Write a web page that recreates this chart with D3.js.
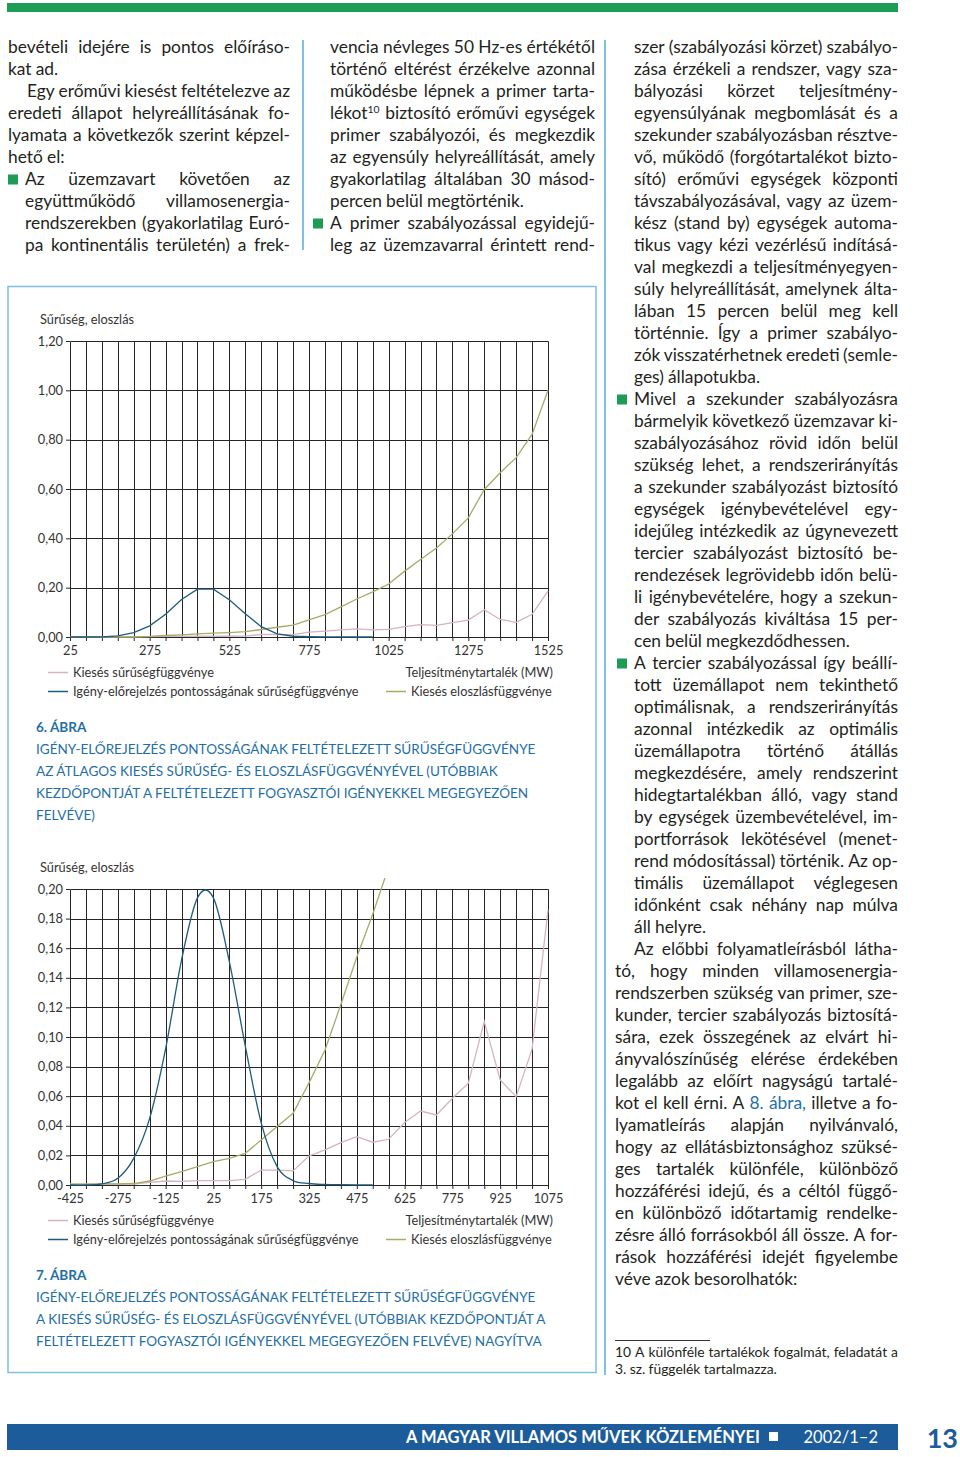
<!DOCTYPE html>
<html>
<head>
<meta charset="utf-8">
<script src="https://cdn.jsdelivr.net/npm/d3@7"></script>
<style>
  body { margin: 0; background: #fff; }
  svg { display: block; }
  text { font-family: Lato, "Open Sans", sans-serif; }
</style>
</head>
<body>
<div id="page"></div>
<script>
// ---- chart data (same series, second one zoomed) ----
const cats1 = [25, 75, 125, 175, 225, 275, 325, 375, 425, 475, 525, 575, 625, 675, 725, 775,
  825, 875, 925, 975, 1025, 1075, 1125, 1175, 1225, 1275, 1325, 1375, 1425, 1475, 1525];
const cats2 = [-425, -375, -325, -275, -225, -175, -125, -75, -25, 25, 75, 125, 175, 225, 275, 325,
  375, 425, 475, 525, 575, 625, 675, 725, 775, 825, 875, 925, 975, 1025, 1075];
const xLabels1 = [25, 275, 525, 775, 1025, 1275, 1525];
const xLabels2 = [-425, -275, -125, 25, 175, 325, 475, 625, 775, 925, 1075];
const yTicks1 = [0, 0.2, 0.4, 0.6, 0.8, 1.0, 1.2];
const yTicks2 = [0, 0.02, 0.04, 0.06, 0.08, 0.1, 0.12, 0.14, 0.16, 0.18, 0.2];

// Kiesés sűrűségfüggvénye
const kiesesSuruseg = [0.0005, 0.0005, 0.0005, 0.0005, 0.0006, 0.0018, 0.0027, 0.0025, 0.003, 0.003,
  0.003, 0.0038, 0.0101, 0.0101, 0.0095, 0.0196, 0.0237, 0.0286, 0.0327, 0.0289, 0.0309, 0.0422,
  0.050, 0.0473, 0.0586, 0.0688, 0.1105, 0.071, 0.0597, 0.0918, 0.186];
// Kiesés eloszlásfüggvénye
const kiesesEloszlas = [0.0005, 0.0006, 0.0007, 0.0008, 0.001, 0.0027, 0.006, 0.009, 0.0124, 0.0158,
  0.018, 0.0214, 0.0304, 0.0395, 0.0485, 0.069, 0.091, 0.122, 0.154, 0.183, 0.215, 0.267, 0.314,
  0.361, 0.418, 0.483, 0.598, 0.666, 0.727, 0.821, 1.0];
// Igény-előrejelzés pontosságának sűrűségfüggvénye (ends at the 20th category)
const igenySuruseg = [0, 0, 0.0007, 0.0045, 0.018, 0.045, 0.092, 0.152, 0.194, 0.194, 0.151, 0.094,
  0.042, 0.0124, 0.003, 0.001, 0.0004, 0.0002, 0.0001, 0.0001];

const legendNames = ["Kiesés sűrűségfüggvénye", "Igény-előrejelzés pontosságának sűrűségfüggvénye",
  "Kiesés eloszlásfüggvénye"];
const seriesColors = ["#d6b2c2", "#1f5b7e", "#a7ab68"];

// ---- page text ----
const caption6 = ["IGÉNY-ELŐREJELZÉS PONTOSSÁGÁNAK FELTÉTELEZETT SŰRŰSÉGFÜGGVÉNYE",
  "AZ ÁTLAGOS KIESÉS SŰRŰSÉG- ÉS ELOSZLÁSFÜGGVÉNYÉVEL (UTÓBBIAK",
  "KEZDŐPONTJÁT A FELTÉTELEZETT FOGYASZTÓI IGÉNYEKKEL MEGEGYEZŐEN",
  "FELVÉVE)"];
const caption7 = ["IGÉNY-ELŐREJELZÉS PONTOSSÁGÁNAK FELTÉTELEZETT SŰRŰSÉGFÜGGVÉNYE",
  "A KIESÉS SŰRŰSÉG- ÉS ELOSZLÁSFÜGGVÉNYÉVEL (UTÓBBIAK KEZDŐPONTJÁT A",
  "FELTÉTELEZETT FOGYASZTÓI IGÉNYEKKEL MEGEGYEZŐEN FELVÉVE) NAGYÍTVA"];

// [indent, kind, text]  kind: j = justified, l = left, b = bullet + justified
const col1 = [
  [0, "j", "bevételi idejére is pontos előíráso-"],
  [0, "l", "kat ad."],
  [19, "j", "Egy erőművi kiesést feltételezve az"],
  [0, "j", "eredeti állapot helyreállításának fo-"],
  [0, "j", "lyamata a következők szerint képzel-"],
  [0, "l", "hető el:"],
  [17, "b", "Az üzemzavart követően az"],
  [17, "j", "együttműködő villamosenergia-"],
  [17, "j", "rendszerekben (gyakorlatilag Euró-"],
  [17, "j", "pa kontinentális területén) a frek-"]
];
const col2 = [
  [0, "j", "vencia névleges 50 Hz-es értékétől"],
  [0, "j", "történő eltérést érzékelve azonnal"],
  [0, "j", "működésbe lépnek a primer tarta-"],
  [0, "j", "lékot^10 biztosító erőművi egységek"],
  [0, "j", "primer szabályozói, és megkezdik"],
  [0, "j", "az egyensúly helyreállítását, amely"],
  [0, "j", "gyakorlatilag általában 30 másod-"],
  [0, "l", "percen belül megtörténik."],
  [0, "b", "A primer szabályozással egyidejű-"],
  [0, "j", "leg az üzemzavarral érintett rend-"]
];
const col3 = [
  [19, "j", "szer (szabályozási körzet) szabályo-"],
  [19, "j", "zása érzékeli a rendszer, vagy sza-"],
  [19, "j", "bályozási körzet teljesítmény-"],
  [19, "j", "egyensúlyának megbomlását és a"],
  [19, "j", "szekunder szabályozásban résztve-"],
  [19, "j", "vő, működő (forgótartalékot bizto-"],
  [19, "j", "sító) erőművi egységek központi"],
  [19, "j", "távszabályozásával, vagy az üzem-"],
  [19, "j", "kész (stand by) egységek automa-"],
  [19, "j", "tikus vagy kézi vezérlésű indításá-"],
  [19, "j", "val megkezdi a teljesítményegyen-"],
  [19, "j", "súly helyreállítását, amelynek álta-"],
  [19, "j", "lában 15 percen belül meg kell"],
  [19, "j", "történnie. Így a primer szabályo-"],
  [19, "j", "zók visszatérhetnek eredeti (semle-"],
  [19, "l", "ges) állapotukba."],
  [19, "b", "Mivel a szekunder szabályozásra"],
  [19, "j", "bármelyik következő üzemzavar ki-"],
  [19, "j", "szabályozásához rövid időn belül"],
  [19, "j", "szükség lehet, a rendszerirányítás"],
  [19, "j", "a szekunder szabályozást biztosító"],
  [19, "j", "egységek igénybevételével egy-"],
  [19, "j", "idejűleg intézkedik az úgynevezett"],
  [19, "j", "tercier szabályozást biztosító be-"],
  [19, "j", "rendezések legrövidebb időn belü-"],
  [19, "j", "li igénybevételére, hogy a szekun-"],
  [19, "j", "der szabályozás kiváltása 15 per-"],
  [19, "l", "cen belül megkezdődhessen."],
  [19, "b", "A tercier szabályozással így beállí-"],
  [19, "j", "tott üzemállapot nem tekinthető"],
  [19, "j", "optimálisnak, a rendszerirányítás"],
  [19, "j", "azonnal intézkedik az optimális"],
  [19, "j", "üzemállapotra történő átállás"],
  [19, "j", "megkezdésére, amely rendszerint"],
  [19, "j", "hidegtartalékban álló, vagy stand"],
  [19, "j", "by egységek üzembevételével, im-"],
  [19, "j", "portforrások lekötésével (menet-"],
  [19, "j", "rend módosítással) történik. Az op-"],
  [19, "j", "timális üzemállapot véglegesen"],
  [19, "j", "időnként csak néhány nap múlva"],
  [19, "l", "áll helyre."],
  [19, "j", "Az előbbi folyamatleírásból látha-"],
  [0, "j", "tó, hogy minden villamosenergia-"],
  [0, "j", "rendszerben szükség van primer, sze-"],
  [0, "j", "kunder, tercier szabályozás biztosítá-"],
  [0, "j", "sára, ezek összegének az elvárt hi-"],
  [0, "j", "ányvalószínűség elérése érdekében"],
  [0, "j", "legalább az előírt nagyságú tartalé-"],
  [0, "j", "kot el kell érni. A *8.* *ábra,* illetve a fo-"],
  [0, "j", "lyamatleírás alapján nyilvánvaló,"],
  [0, "j", "hogy az ellátásbiztonsághoz szüksé-"],
  [0, "j", "ges tartalék különféle, különböző"],
  [0, "j", "hozzáférési idejű, és a céltól függő-"],
  [0, "j", "en különböző időtartamig rendelke-"],
  [0, "j", "zésre álló forrásokból áll össze. A for-"],
  [0, "j", "rások hozzáférési idejét figyelembe"],
  [0, "l", "véve azok besorolhatók:"]
];

const W = 960, H = 1457;
const green = "#1e9b55", blueDark = "#1c5c9b", capBlue = "#1f6fa6", frameBlue = "#80c0e0";
const textCol = "#231f20", gridCol = "#262626";

const svg = d3.select("#page").append("svg").attr("width", W).attr("height", H);

function measure(str, size, weight) {
  let t = svg.append("text").attr("font-size", size).attr("font-weight", weight || 400).text(str);
  let w = t.node().getComputedTextLength();
  t.remove();
  return w;
}
function fitSize(str, target, weight) {
  return 20 * target / measure(str, 20, weight);
}

const chartSize = fitSize(legendNames[1], 286);
const capSize = fitSize(caption6[0], 500);

// body size: as large as the reference line lengths suggest, but small enough that
// most justified lines keep a normal word space
const spaceEm = 0.24;
let bodySize = fitSize("cen belül megkezdődhessen.", 223);
let fits = [];
[[col1, 290 - 8], [col2, 595 - 330], [col3, 898 - 615]].forEach(([lines, avail]) => {
  lines.forEach(l => {
    if (l[1] === "l") return;
    let words = l[2].replace(/[\^\*]/g, "").split(" ");
    let w20 = d3.sum(words, w => measure(w, 20));
    fits.push((avail - l[0]) / (w20 / 20 + (words.length - 1) * spaceEm));
  });
});
fits.sort(d3.ascending);
bodySize = Math.min(bodySize, fits[Math.floor(fits.length * 0.08)]);

// ---- page furniture ----
svg.append("rect").attr("x", 7).attr("y", 3).attr("width", 891).attr("height", 9).attr("fill", green);
svg.append("line").attr("x1", 303).attr("x2", 303).attr("y1", 40).attr("y2", 250)
  .attr("stroke", frameBlue).attr("stroke-width", 2);
svg.append("line").attr("x1", 605).attr("x2", 605).attr("y1", 40).attr("y2", 1375)
  .attr("stroke", frameBlue).attr("stroke-width", 2);
svg.append("rect").attr("x", 8).attr("y", 286.5).attr("width", 588).attr("height", 1086)
  .attr("fill", "none").attr("stroke", frameBlue).attr("stroke-width", 1.5);

// ---- body text ----
function drawLine(g, line, x0, right, baseline, size) {
  let [indent, kind, str] = line;
  let x = x0 + indent;
  if (kind === "b") {
    g.append("rect").attr("x", x - 17).attr("y", baseline - 10).attr("width", 10).attr("height", 10)
      .attr("fill", green);
  }
  let words = str.split(" ");
  let nodes = words.map(w => {
    let t = g.append("text").attr("y", baseline).attr("font-size", size).attr("fill", textCol);
    if (w.startsWith("*")) {
      t.text(w.replace(/\*/g, "")).attr("fill", capBlue);
    } else if (w.includes("^")) {
      let [base, sup] = w.split("^");
      t.text(base);
      t.append("tspan").attr("font-size", size * 0.6).attr("dy", -6).text(sup);
    } else {
      t.text(w);
    }
    return t;
  });
  let widths = nodes.map(n => n.node().getComputedTextLength());
  let total = d3.sum(widths);
  let minGap = size * 0.2;
  let gap = size * spaceEm;
  let k = 1;
  if (kind !== "l" && words.length > 1) {
    gap = (right - x - total) / (words.length - 1);
    if (gap < minGap) {
      gap = minGap;
      k = (right - x - gap * (words.length - 1)) / total;
    }
  }
  let cx = x;
  nodes.forEach((n, i) => {
    n.attr("x", cx);
    if (k < 1 && !words[i].includes("^")) {
      n.attr("textLength", widths[i] * k).attr("lengthAdjust", "spacingAndGlyphs");
    }
    cx += widths[i] * k + gap;
  });
}

function drawColumn(lines, x0, right, firstBase) {
  let g = svg.append("g");
  lines.forEach((line, i) => drawLine(g, line, x0, right, firstBase + i * 22, bodySize));
}
drawColumn(col1, 8, 290, 52.5);
drawColumn(col2, 330, 595, 52.5);
drawColumn(col3, 615, 898, 52.5);

// footnote
svg.append("line").attr("x1", 615).attr("x2", 710).attr("y1", 1340.5).attr("y2", 1340.5)
  .attr("stroke", "#333").attr("stroke-width", 1);
let fg = svg.append("g");
const noteSize = bodySize * 0.8;
drawLine(fg, [0, "j", "10 A különféle tartalékok fogalmát, feladatát a"], 615, 898, 1357, noteSize);
drawLine(fg, [0, "l", "3. sz. függelék tartalmazza."], 615, 898, 1374, noteSize);

// footer
svg.append("rect").attr("x", 7).attr("y", 1424).attr("width", 891).attr("height", 26).attr("fill", blueDark);
const footSize = fitSize("A MAGYAR VILLAMOS MŰVEK KÖZLEMÉNYEI", 354, 700);
svg.append("text").attr("x", 406).attr("y", 1443).attr("font-size", footSize).attr("font-weight", 700)
  .attr("fill", "#fff").text("A MAGYAR VILLAMOS MŰVEK KÖZLEMÉNYEI");
svg.append("rect").attr("x", 769).attr("y", 1432).attr("width", 9).attr("height", 9).attr("fill", "#fff");
svg.append("text").attr("x", 878).attr("y", 1443).attr("text-anchor", "end").attr("font-size", footSize)
  .attr("fill", "#fff").text("2002/1–2");
svg.append("text").attr("x", 958).attr("y", 1448).attr("text-anchor", "end").attr("font-size", 27)
  .attr("font-weight", 700).attr("fill", blueDark).text("13");

// ---- charts ----
const huLocale = d3.formatLocale({ decimal: ",", thousands: " ", grouping: [3], currency: ["", " Ft"] });
const fmt2 = huLocale.format(".2f");

function drawChart(cfg) {
  let g = svg.append("g");
  let x = d3.scaleLinear().domain(d3.extent(cfg.cats)).range([cfg.left, cfg.right]);
  let y = d3.scaleLinear().domain([0, cfg.yMax]).range([cfg.bottom, cfg.top]);
  let px = v => Math.round(v) + 0.5;

  // y title
  g.append("text").attr("x", 40).attr("y", cfg.top - 17).attr("font-size", chartSize)
    .attr("fill", "#333").text("Sűrűség, eloszlás");

  // grid
  g.append("g").selectAll("line").data(cfg.cats).join("line")
    .attr("x1", d => px(x(d))).attr("x2", d => px(x(d)))
    .attr("y1", px(y(cfg.yMax))).attr("y2", px(y(0)))
    .attr("stroke", gridCol).attr("stroke-width", 1);
  g.append("g").selectAll("line").data(cfg.yTicks).join("line")
    .attr("x1", px(x(cfg.cats[0]))).attr("x2", px(x(cfg.cats[cfg.cats.length - 1])))
    .attr("y1", d => px(y(d))).attr("y2", d => px(y(d)))
    .attr("stroke", gridCol).attr("stroke-width", 1);

  // axes
  let xa = g.append("g").attr("transform", `translate(0,${px(y(0)) - 0.5})`)
    .call(d3.axisBottom(x).tickValues(cfg.cats).tickSize(4).tickPadding(5).tickSizeOuter(0)
      .tickFormat(d => cfg.xLabels.includes(d) ? d : ""));
  xa.select(".domain").remove();
  xa.selectAll("line").attr("stroke", gridCol);
  xa.selectAll("text").attr("font-size", chartSize).attr("fill", "#333").attr("font-family", null);

  let ya = g.append("g").attr("transform", `translate(${px(x(cfg.cats[0])) - 0.5},0)`)
    .call(d3.axisLeft(y).tickValues(cfg.yTicks).tickSize(4).tickPadding(3).tickFormat(fmt2));
  ya.select(".domain").remove();
  ya.selectAll("line").attr("stroke", gridCol);
  ya.selectAll("text").attr("font-size", chartSize).attr("fill", "#333").attr("font-family", null);

  // series
  let clipId = "clip" + cfg.id;
  g.append("clipPath").attr("id", clipId).append("rect")
    .attr("x", cfg.left - 2).attr("y", cfg.top - cfg.overshoot)
    .attr("width", cfg.right - cfg.left + 4).attr("height", cfg.bottom - cfg.top + cfg.overshoot + 2);
  let series = g.append("g").attr("clip-path", `url(#${clipId})`);
  let lineStraight = d3.line().x((d, i) => x(cfg.cats[i])).y(d => y(d));
  let lineBlue = d3.line().x((d, i) => x(cfg.cats[i])).y(d => y(d))
    .curve(cfg.smooth ? d3.curveCardinal.tension(0) : d3.curveLinear);

  series.append("path").datum(kiesesSuruseg).attr("d", lineStraight)
    .attr("fill", "none").attr("stroke", seriesColors[0]).attr("stroke-width", 1.3);
  series.append("path").datum(kiesesEloszlas).attr("d", lineStraight)
    .attr("fill", "none").attr("stroke", seriesColors[2]).attr("stroke-width", 1.3);
  series.append("path").datum(igenySuruseg).attr("d", lineBlue)
    .attr("fill", "none").attr("stroke", seriesColors[1]).attr("stroke-width", 1.3);

  // legend
  let ly1 = cfg.bottom + 35, ly2 = cfg.bottom + 54;
  let leg = [
    { x: 48, y: ly1, name: legendNames[0], c: seriesColors[0] },
    { x: 48, y: ly2, name: legendNames[1], c: seriesColors[1] },
    { x: 386, y: ly2, name: legendNames[2], c: seriesColors[2] }
  ];
  let lg = g.append("g").selectAll("g").data(leg).join("g");
  lg.append("line").attr("x1", d => d.x).attr("x2", d => d.x + 20)
    .attr("y1", d => d.y + 0.5).attr("y2", d => d.y + 0.5).attr("stroke", d => d.c).attr("stroke-width", 1.5);
  lg.append("text").attr("x", d => d.x + 25).attr("y", d => d.y + 4.5).attr("font-size", chartSize)
    .attr("fill", "#333").text(d => d.name);
  g.append("text").attr("x", 553).attr("y", ly1 + 4.5).attr("text-anchor", "end")
    .attr("font-size", chartSize).attr("fill", "#333").text("Teljesítménytartalék (MW)");

  // caption
  g.append("text").attr("x", 36).attr("y", cfg.capTop + 5).attr("font-size", capSize)
    .attr("font-weight", 700).attr("fill", capBlue).text(cfg.figNo);
  g.append("g").selectAll("text").data(cfg.caption).join("text")
    .attr("x", 36).attr("y", (d, i) => cfg.capTop + 27 + i * 22).attr("font-size", capSize)
    .attr("fill", capBlue).text(d => d);
}

drawChart({
  id: 1, cats: cats1, xLabels: xLabels1, yTicks: yTicks1, yMax: 1.2,
  left: 70, right: 548, top: 341, bottom: 637, smooth: false, overshoot: 2,
  figNo: "6. ÁBRA", caption: caption6, capTop: 727
});
drawChart({
  id: 2, cats: cats2, xLabels: xLabels2, yTicks: yTicks2, yMax: 0.2,
  left: 70, right: 548, top: 889, bottom: 1185, smooth: true, overshoot: 11,
  figNo: "7. ÁBRA", caption: caption7, capTop: 1275
});
</script>
</body>
</html>
